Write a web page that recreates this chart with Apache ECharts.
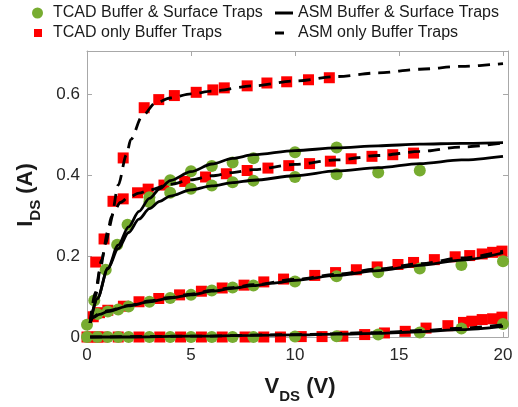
<!DOCTYPE html>
<html>
<head>
<meta charset="utf-8">
<script src="https://cdn.jsdelivr.net/npm/echarts@6.0.0/dist/echarts.min.js"></script>
<style>
html,body{margin:0;padding:0;background:#fff;}
#myChart{width:518px;height:407px;}
</style>
</head>
<body>
<div id="myChart"></div>
<script>
// TCAD, buffer & surface traps (green circles), one array per bias curve
var tcadBS1 = [[0,0.03],[0.35,0.09],[0.9,0.166],[1.45,0.228],[1.95,0.277],[3,0.345],[4,0.387],[5,0.409],[6,0.422],[7,0.431],[8,0.441],[10,0.456],[12,0.468]];
var tcadBS2 = [[3,0.333],[4,0.356],[5,0.366],[6,0.374],[7,0.382],[8,0.386],[10,0.395],[12,0.402],[14,0.406],[16,0.411]];
var tcadBS3 = [[0.5,0.057],[1,0.063],[1.5,0.068],[2,0.075],[3,0.087],[4,0.096],[5,0.104],[6,0.115],[7,0.122],[8,0.127],[10,0.137],[12,0.15],[14,0.16],[16,0.169],[18,0.178],[20,0.187]];
var tcadBS4 = [[0,0],[0.5,0],[1,0],[1.5,0],[2,0],[3,0],[4,0],[5,0],[6,0],[7,0],[8,0],[10,0.001],[12,0.002],[14,0.006],[16,0.011],[18,0.021],[20,0.032]];

// TCAD, only buffer traps (red squares)
var tcadB1 = [[0.42,0.185],[0.82,0.242],[1.74,0.442],[2.75,0.566],[3.45,0.586],[4.2,0.596],[5.25,0.604],[6.05,0.61],[6.6,0.615],[7.7,0.62],[8.65,0.627],[9.6,0.63],[10.65,0.635],[11.65,0.64]];
var tcadB2 = [[1.25,0.335],[1.74,0.341],[2.43,0.356],[2.94,0.365],[3.7,0.375],[4.7,0.384],[5.7,0.395],[6.7,0.403],[7.7,0.411],[8.7,0.417],[9.7,0.423],[10.7,0.428],[11.7,0.434],[12.7,0.44],[13.7,0.446],[14.7,0.45],[15.7,0.454]];
var tcadB3 = [[0.3,0.05],[0.6,0.06],[1,0.066],[1.75,0.076],[2.5,0.087],[3.45,0.095],[4.45,0.104],[5.5,0.113],[6.5,0.121],[7.55,0.128],[8.5,0.136],[9.45,0.143],[10.95,0.152],[11.95,0.159],[12.95,0.166],[13.95,0.173],[14.95,0.179],[15.7,0.184],[16.7,0.191],[17.7,0.198],[18.4,0.201],[19,0.205],[19.5,0.209],[19.95,0.212]];
var tcadB4 = [[0,0],[0.25,0],[0.5,0],[0.75,0],[1.5,0],[2.5,0],[3.5,0],[4.5,0],[5.5,0],[6.5,0],[7.6,0],[8.5,0],[9.3,0],[10.3,0.001],[11.3,0.001],[12.3,0.002],[13.35,0.006],[14.3,0.01],[15.3,0.014],[16.3,0.022],[17.35,0.028],[18.1,0.036],[18.5,0.039],[19,0.043],[19.5,0.045],[19.95,0.049]];

// ASM model, buffer & surface traps (solid lines)
var asmBS1 = [[0.15,0.035],[0.5,0.095],[1,0.17],[1.5,0.227],[2,0.272],[2.5,0.31],[3,0.342],[3.5,0.366],[4,0.386],[5,0.408],[6,0.427],[7,0.441],[8,0.45],[10,0.46],[12,0.467],[14,0.472],[16,0.476],[18,0.478],[20,0.48]];
var asmBS2 = [[0.15,0.035],[0.5,0.095],[1,0.168],[1.5,0.218],[2,0.258],[2.5,0.291],[3,0.317],[3.5,0.335],[4,0.348],[5,0.363],[6,0.373],[7,0.381],[8,0.387],[10,0.398],[12,0.41],[14,0.418],[16,0.428],[18,0.437],[20,0.446]];
var asmBS3 = [[0.15,0.035],[0.3,0.048],[0.6,0.056],[1,0.063],[2,0.077],[3,0.087],[4,0.096],[5,0.104],[6,0.113],[7,0.12],[8,0.127],[9,0.133],[10,0.14],[12,0.152],[14,0.164],[16,0.177],[18,0.19],[20,0.208]];
var asmBS4 = [[0.15,0],[2,0],[5,0.002],[8,0.004],[10,0.005],[12,0.007],[14,0.009],[16,0.013],[18,0.018],[20,0.026]];

// ASM model, only buffer traps (dashed lines)
var asmB1 = [[0.15,0.035],[0.4,0.11],[0.62,0.165],[0.9,0.23],[1.18,0.298],[1.5,0.375],[1.9,0.45],[2.1,0.487],[2.65,0.545],[3.3,0.578],[4,0.59],[5,0.6],[6,0.607],[8,0.62],[10,0.632],[12,0.643],[14,0.652],[16,0.661],[18,0.668],[20,0.675]];
var asmB2 = [[0.15,0.035],[0.4,0.1],[0.7,0.19],[1,0.26],[1.3,0.31],[1.6,0.332],[2,0.345],[2.5,0.355],[3,0.363],[4,0.377],[5,0.388],[6,0.398],[7,0.406],[8,0.413],[10,0.426],[12,0.437],[14,0.448],[16,0.458],[18,0.469],[20,0.479]];
var asmB3 = [[0.15,0.035],[0.3,0.05],[0.6,0.058],[1,0.065],[2,0.078],[3,0.089],[4,0.098],[5,0.106],[6,0.115],[7,0.122],[8,0.129],[10,0.142],[12,0.155],[14,0.168],[16,0.181],[18,0.195],[20,0.212]];
var asmB4 = [[0.15,0],[5,0.002],[10,0.006],[14,0.011],[16,0.016],[18,0.022],[20,0.03]];

var xTicks = [0, 5, 10, 15, 20];
var yTicks = [0, 0.2, 0.4, 0.6];

var NAME_TBS = 'TCAD Buffer & Surface Traps';
var NAME_TB = 'TCAD only Buffer Traps';
var NAME_ABS = 'ASM Buffer & Surface Traps';
var NAME_AB = 'ASM only Buffer Traps';

var FONT = 'Liberation Sans, Arial, Helvetica, sans-serif';
var AXIS_GRAY = '#a8a8a8';
var GREEN = '#77ac30';
var RED = '#ff0000';

function scatter(name, data, symbol, size, color, z) {
    return {
        name: name, type: 'scatter', data: data, symbol: symbol, symbolSize: size,
        itemStyle: {color: color, opacity: 1}, clip: false, z: z, silent: true
    };
}
function curve(name, data, dashed) {
    return {
        name: name, type: 'line', data: data, showSymbol: false, symbol: 'none',
        smooth: 0.3, smoothMonotone: 'x', clip: false, silent: true,
        itemStyle: {color: '#000'},
        lineStyle: {color: '#000', width: 2.8, type: dashed ? [12, 8] : 'solid'},
        z: dashed ? 4 : 5
    };
}

var myChart = echarts.init(document.getElementById('myChart'));

var xMax = 20.24, yMax = 0.706;

function axisPair(isX) {
    var ticks = isX ? xTicks : yTicks;
    var base = {
        type: 'value', min: 0, max: isX ? xMax : yMax, interval: isX ? 5 : 0.2,
        axisLine: {show: true, onZero: false, lineStyle: {color: AXIS_GRAY, width: 1}},
        axisTick: {show: true, inside: true, length: 5, lineStyle: {color: AXIS_GRAY}},
        splitLine: {show: false}
    };
    var main = Object.assign({}, base, {
        position: isX ? 'bottom' : 'left',
        axisLabel: {
            show: true, margin: isX ? 10 : 7, fontSize: 17, color: '#262626', fontFamily: FONT,
            formatter: function (v) {
                for (var i = 0; i < ticks.length; i++) {
                    if (Math.abs(v - ticks[i]) < 1e-6) return String(ticks[i]);
                }
                return '';
            }
        }
    });
    var mirror = Object.assign({}, base, {
        position: isX ? 'top' : 'right',
        axisLabel: {show: false}
    });
    return [main, mirror];
}

var legendText = {fontSize: 16, color: '#1a1a1a', fontFamily: FONT};
function legendItem(name, icon, left, top, w, h, pad) {
    return {
        data: [{name: name, icon: icon}], left: left, top: top, padding: 0,
        itemWidth: w, itemHeight: h, selectedMode: false,
        textStyle: Object.assign({}, legendText, {padding: [0, 0, 0, pad]})
    };
}

var titleRich = {
    m: {fontSize: 22, fontWeight: 'bold', fontFamily: FONT, fill: '#1a1a1a', verticalAlign: 'top'},
    s: {fontSize: 15, fontWeight: 'bold', fontFamily: FONT, fill: '#1a1a1a', verticalAlign: 'top', padding: [14, 0, 0, 0]}
};

var option = {
    backgroundColor: '#fff',
    animation: false,
    grid: {left: 87, right: 10, top: 51, bottom: 70, containLabel: false},
    xAxis: axisPair(true),
    yAxis: axisPair(false),
    legend: [
        legendItem(NAME_TBS, 'circle', 32, 5, 11, 11, 5),
        legendItem(NAME_TB, 'rect', 34, 25, 8, 8, 6),
        legendItem(NAME_ABS, 'rect', 275, 5, 18, 3, 0),
        legendItem(NAME_AB, 'rect', 275, 25, 9, 3, 9)
    ],
    graphic: [
        {type: 'text', x: 300, y: 390, silent: true,
         style: {text: '{m|V}{s|DS}{m| (V)}', rich: titleRich, align: 'center', verticalAlign: 'middle'}},
        {type: 'text', x: 29, y: 195, rotation: Math.PI / 2, silent: true,
         style: {text: '{m|I}{s|DS}{m| (A)}', rich: titleRich, align: 'center', verticalAlign: 'middle'}}
    ],
    series: [
        scatter(NAME_TB, tcadB1, 'rect', 11, RED, 2),
        scatter(NAME_TB, tcadB2, 'rect', 11, RED, 2),
        scatter(NAME_TB, tcadB3, 'rect', 11, RED, 2),
        scatter(NAME_TB, tcadB4, 'rect', 11, RED, 2),
        scatter(NAME_TBS, tcadBS1, 'circle', 12, GREEN, 3),
        scatter(NAME_TBS, tcadBS2, 'circle', 12, GREEN, 3),
        scatter(NAME_TBS, tcadBS3, 'circle', 12, GREEN, 3),
        scatter(NAME_TBS, tcadBS4, 'circle', 12, GREEN, 3),
        curve(NAME_ABS, asmBS1, false),
        curve(NAME_ABS, asmBS2, false),
        curve(NAME_ABS, asmBS3, false),
        curve(NAME_ABS, asmBS4, false),
        curve(NAME_AB, asmB1, true),
        curve(NAME_AB, asmB2, true),
        curve(NAME_AB, asmB3, true),
        curve(NAME_AB, asmB4, true)
    ]
};

myChart.setOption(option);
window.addEventListener('resize', function () { myChart.resize(); });
</script>
</body>
</html>
